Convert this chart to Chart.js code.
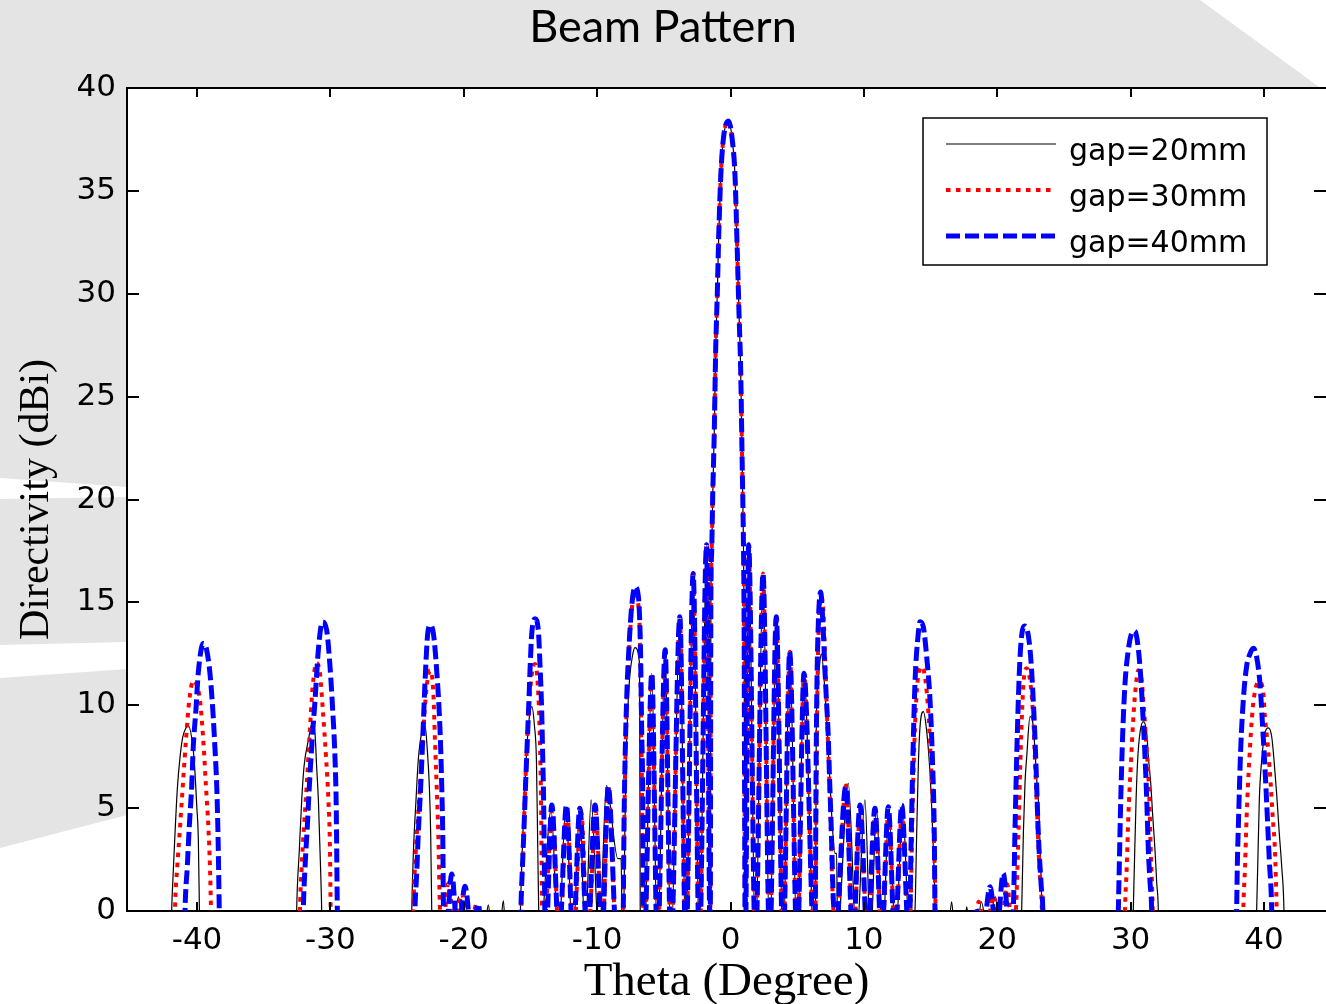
<!DOCTYPE html>
<html lang="en">
<head>
    <meta charset="UTF-8">
    <title>Beam Pattern</title>
    <script src="https://cdn.jsdelivr.net/npm/chart.js"></script>
    <style>
        html, body {
            margin: 0;
            padding: 0;
            background: #ffffff;
            overflow: hidden;
        }
    </style>
</head>
<body>
    <canvas id="beamChart" width="1326" height="1004"></canvas>

    <script>
        // Tick labels
        const xTicks = [-40, -30, -20, -10, 0, 10, 20, 30, 40];
        const yTicks = [0, 5, 10, 15, 20, 25, 30, 35, 40];

        const seriesLabels = ['gap=20mm', 'gap=30mm', 'gap=40mm'];

        // [theta (deg), directivity (dBi)]; values below 0 are clipped by the axis
        // main lobe and close side lobes, where the three curves lie on top of each other
        const centerPoints = [
            [-6.48, -2], [-5.9, 11.55], [-5.48, -2], [-4.9, 12.7], [-4.47, -2], [-3.8, 14.3], [-3.35, -2],
            [-2.8, 16.4], [-2.33, -2], [-1.8, 17.8], [-1.52, -2],
            [-1.47, 15.1], [-1.41, 17.5], [-1.34, 20.0], [-1.22, 23.2], [-1.11, 27.3], [-0.99, 30.0], [-0.88, 32.9],
            [-0.73, 35.7], [-0.54, 37.5], [-0.16, 38.4], [0.13, 37.5], [0.34, 35.7], [0.51, 32.0], [0.64, 29.0],
            [0.76, 26.4], [0.88, 21.6], [0.96, 18.4], [1.01, 15.1], [1.11, -2],
            [1.36, 17.8], [1.87, -2], [2.44, 16.4], [2.94, -2], [3.43, 14.3], [3.94, -2], [4.44, 12.6], [5.0, -2],
            [5.51, 11.55], [6.3, -2]
        ];

        const gap20Points = [
            [-45.3, -4],
            [-41.97, -3], [-41.9, 0], [-41.82, 1.35], [-41.72, 2.8], [-41.48, 5.9], [-41.27, 7.5], [-41.07, 8.45],
            [-40.83, 8.9], [-40.65, 9.0], [-40.28, 7.8], [-40.15, 6.7], [-40.02, 5.1], [-39.9, 3.45], [-39.82, 0], [-39.75, -3],
            [-32.6, -3], [-32.53, 0], [-32.33, 2.95], [-32.15, 5.4], [-31.98, 7.0], [-31.65, 8.3], [-31.33, 9.2],
            [-31.15, 8.6], [-31.03, 7.0], [-30.9, 5.4], [-30.78, 2.95], [-30.65, 0], [-30.58, -3],
            [-23.97, -3], [-23.9, 0], [-23.78, 2.8], [-23.58, 5.4], [-23.41, 7.35], [-23.16, 8.65], [-22.9, 9.0],
            [-22.73, 7.8], [-22.58, 6.05], [-22.48, 3.75], [-22.4, 0], [-22.32, -2],
            [-20.75, -1], [-20.4, 0.7], [-20.05, -1], [-18.45, -1], [-18.16, 0.3], [-17.9, -1], [-17.3, -1], [-17.03, 0.5], [-16.8, -2],
            [-15.82, -3], [-15.75, 0], [-15.55, 4.0], [-15.35, 7.0], [-15.15, 9.0], [-14.9, 9.93], [-14.7, 9.0],
            [-14.55, 7.3], [-14.45, 3.0], [-14.38, 0], [-14.3, -1.5],
            [-13.45, 4.9], [-12.9, -1.5], [-12.35, 5.0], [-11.82, -1.5], [-11.3, 5.0], [-10.9, -1.5], [-10.45, 5.4],
            [-9.85, -1.5], [-9.3, 6.1], [-8.45, 2.55], [-8.2, 2.55], [-8.12, -1],
            [-8.0, 0], [-7.92, 4.0], [-7.8, 8.0], [-7.6, 11.0], [-7.35, 12.4], [-7.16, 12.8], [-6.82, 12.0], [-6.77, 0], [-6.7, -2],
            [6.38, 0], [6.43, 8.8], [6.6, 11.5], [6.81, 12.5], [7.1, 10.5], [7.4, 7.0], [7.65, 4.0], [7.83, 2.8], [7.96, 2.8], [8.02, -1],
            [8.83, 6.2], [9.45, -1.5], [10.08, 5.4], [10.5, -1.5], [10.95, 5.0], [11.4, -1.5], [11.88, 5.0], [12.38, -1.5],
            [12.9, 5.0], [13.45, -1.5],
            [13.83, 0], [13.96, 3.75], [14.08, 7.0], [14.21, 8.95], [14.46, 9.69], [14.7, 8.8], [14.95, 6.8], [15.15, 4.0], [15.35, 0], [15.42, -3],
            [16.35, -1], [16.58, 0.45], [16.8, -1], [17.5, -1], [17.71, 0.2], [17.95, -1], [18.5, -1], [18.8, 0.45], [19.3, -1],
            [19.85, 0.7], [20.3, -1.2],
            [21.75, -3], [21.83, 0], [21.96, 3.8], [22.08, 6.2], [22.21, 7.5], [22.46, 9.45], [22.7, 9.0], [22.83, 7.8],
            [23.0, 6.0], [23.1, 5.2], [23.22, 2.9], [23.35, 0], [23.42, -3],
            [30.12, -3], [30.2, 0], [30.28, 2.15], [30.41, 5.4], [30.53, 7.35], [30.7, 8.65], [30.95, 9.2], [31.21, 8.65],
            [31.33, 7.5], [31.51, 6.2], [31.66, 4.6], [31.83, 2.95], [31.96, 1.35], [32.08, 0], [32.15, -3],
            [39.38, -3], [39.45, 0], [39.53, 2.15], [39.65, 5.4], [39.83, 7.35], [40.07, 8.65], [40.32, 8.9], [40.58, 8.47],
            [40.75, 7.35], [40.95, 5.7], [41.15, 3.75], [41.33, 2.15], [41.5, 0], [41.57, -3],
            [44.7, -4]
        ];

        const gap30Points = [
            [-45.3, -4],
            [-41.72, -3], [-41.65, 0], [-41.48, 2.15], [-41.27, 4.1], [-41.07, 6.05], [-40.83, 8.3], [-40.58, 10.25],
            [-40.28, 11.2], [-39.98, 10.9], [-39.78, 10.25], [-39.53, 8.3], [-39.33, 6.05], [-39.15, 4.1], [-39.03, 2.15],
            [-38.95, 0], [-38.88, -3],
            [-32.35, -3], [-32.28, 0], [-32.15, 2.15], [-31.98, 4.1], [-31.78, 6.05], [-31.58, 8.3], [-31.33, 10.9],
            [-31.03, 12.05], [-30.78, 11.55], [-30.57, 9.8], [-30.33, 7.5], [-30.15, 5.4], [-30.03, 2.95], [-29.98, 0], [-29.9, -3],
            [-23.85, -3], [-23.78, 0], [-23.66, 2.15], [-23.48, 4.1], [-23.28, 6.05], [-23.08, 8.3], [-22.78, 10.9],
            [-22.53, 11.7], [-22.28, 10.6], [-22.16, 8.3], [-22.03, 6.05], [-21.91, 3.75], [-21.78, 0], [-21.6, -1.2],
            [-21.16, 1.35], [-20.65, -1.2], [-20.15, 0.85], [-19.6, -1.2], [-19.03, 0.35], [-18.6, -3],
            [-15.78, -3], [-15.7, 0], [-15.5, 4.0], [-15.3, 7.5], [-15.1, 10.0], [-14.9, 11.5], [-14.65, 12.0],
            [-14.45, 11.0], [-14.3, 8.5], [-14.2, 5.0], [-14.13, 0], [-14.05, -1.5],
            [-13.35, 4.9], [-12.85, -1.5], [-12.25, 4.9], [-11.78, -1.5], [-11.2, 4.85], [-10.7, -1.5], [-10.1, 4.8],
            [-9.62, -1.5], [-9.18, 6.1], [-8.55, -1.5],
            [-8.1, -2], [-8.03, 0], [-7.97, 4.0], [-7.88, 7.5], [-7.75, 10.6], [-7.58, 13.0], [-7.38, 14.8], [-7.16, 15.5],
            [-6.93, 15.0], [-6.8, 13.5], [-6.72, 10.0], [-6.62, 5.0], [-6.55, 0],
            [6.38, 0], [6.43, 5.0], [6.5, 10.0], [6.6, 13.5], [6.8, 15.3], [6.97, 14.5], [7.1, 12.2], [7.22, 9.8],
            [7.35, 7.5], [7.5, 4.5], [7.62, 1.5], [7.72, 0], [7.85, -1.5],
            [8.66, 6.1], [9.2, -1.5], [9.73, 4.9], [10.28, -1.5], [10.85, 4.8], [11.35, -1.5], [11.85, 4.9], [12.35, -1.5],
            [12.86, 4.9], [13.4, -1.5],
            [13.5, 0], [13.62, 4.0], [13.78, 8.0], [13.98, 10.8], [14.33, 11.87], [14.6, 11.3], [14.85, 9.5], [15.08, 6.5],
            [15.25, 3.5], [15.38, 0], [15.45, -3],
            [18.2, -3], [18.6, 0.45], [19.15, -1.2], [19.7, 0.75], [20.22, -1.2], [20.75, 1.3], [21.12, -1.2],
            [21.4, 0], [21.6, 4.0], [21.76, 7.8], [21.96, 11.0], [22.21, 11.8], [22.46, 11.2], [22.7, 9.4], [22.85, 7.0],
            [23.0, 4.6], [23.16, 2.1], [23.35, 0], [23.42, -3],
            [29.5, -3], [29.58, 0], [29.71, 2.15], [29.83, 4.6], [30.01, 7.0], [30.21, 9.45], [30.41, 11.05], [30.58, 11.7],
            [30.83, 11.2], [31.0, 9.8], [31.21, 7.8], [31.41, 5.4], [31.51, 2.95], [31.66, 0], [31.73, -3],
            [38.38, -3], [38.45, 0], [38.58, 2.15], [38.7, 4.6], [38.9, 7.35], [39.15, 9.8], [39.4, 10.9], [39.65, 11.15],
            [39.95, 10.6], [40.07, 9.45], [40.32, 7.8], [40.5, 6.2], [40.65, 4.6], [40.82, 2.95], [40.95, 0], [41.02, -3],
            [44.7, -4]
        ];

        const gap40Points = [
            [-45.3, -4],
            [-40.98, -3], [-40.9, 0], [-40.73, 2.15], [-40.58, 4.1], [-40.4, 6.05], [-40.28, 8.0], [-40.08, 9.8],
            [-39.91, 11.55], [-39.53, 13.0], [-39.28, 12.7], [-39.03, 11.55], [-38.82, 9.8], [-38.65, 7.85], [-38.52, 6.05],
            [-38.42, 3.5], [-38.33, 0], [-38.25, -3],
            [-32.1, -3], [-32.03, 0], [-31.9, 2.15], [-31.73, 4.1], [-31.58, 6.05], [-31.4, 8.0], [-31.15, 10.25],
            [-30.9, 12.7], [-30.6, 14.05], [-30.28, 13.65], [-30.03, 11.9], [-29.83, 9.8], [-29.65, 7.35], [-29.56, 5.0],
            [-29.52, 2.45], [-29.48, 0], [-29.4, -3],
            [-23.74, -3], [-23.66, 0], [-23.53, 1.8], [-23.41, 3.75], [-23.23, 6.05], [-23.08, 8.3], [-22.91, 11.05],
            [-22.7, 13.5], [-22.5, 13.9], [-22.28, 13.5], [-22.03, 11.7], [-21.78, 8.8], [-21.65, 6.05], [-21.57, 3.45],
            [-21.52, 0], [-21.35, -1.2], [-20.9, 1.8], [-20.45, -1.2], [-19.9, 1.2], [-19.4, -1.2], [-18.9, 0.35], [-18.55, -3],
            [-15.8, -3], [-15.72, 0], [-15.6, 2.15], [-15.48, 4.1], [-15.37, 6.05], [-15.25, 8.0], [-15.14, 9.8],
            [-15.02, 11.9], [-14.9, 13.5], [-14.66, 14.2], [-14.41, 13.65], [-14.28, 11.9], [-14.16, 9.8], [-14.08, 7.5],
            [-14.03, 6.05], [-13.98, 3.8], [-13.92, 0], [-13.85, -1.5],
            [-13.4, 5.15], [-12.85, -1.5], [-12.3, 5.15], [-11.8, -1.5], [-11.3, 5.0], [-10.72, -1.5], [-10.15, 5.15],
            [-9.65, -1.5], [-9.16, 6.05], [-8.55, -1.5],
            [-8.1, -2], [-8.04, 0], [-7.99, 3.9], [-7.91, 7.2], [-7.78, 10.4], [-7.61, 12.85], [-7.41, 14.8], [-7.16, 15.75],
            [-6.91, 15.3], [-6.79, 13.8], [-6.73, 12.05], [-6.66, 8.8], [-6.58, 5.55], [-6.54, 0],
            [6.36, 0], [6.4, 5.0], [6.46, 10.0], [6.56, 13.5], [6.76, 15.5], [6.93, 14.0], [7.06, 12.0], [7.18, 10.4],
            [7.31, 8.8], [7.43, 6.4], [7.56, 3.9], [7.7, 0.7], [7.76, 0], [7.85, -1.5],
            [8.64, 6.05], [9.18, -1.5], [9.71, 5.15], [10.27, -1.5], [10.83, 5.0], [11.33, -1.5], [11.83, 5.07], [12.33, -1.5],
            [12.84, 5.15], [13.38, -1.5],
            [13.46, 0], [13.51, 2.15], [13.66, 7.0], [13.83, 11.05], [14.08, 13.5], [14.21, 14.06], [14.46, 13.8],
            [14.71, 12.35], [14.96, 10.25], [15.16, 7.0], [15.28, 3.75], [15.33, 0], [15.4, -3],
            [18.0, -3], [18.33, 0.15], [18.9, -1.2], [19.46, 1.18], [19.95, -1.2], [20.45, 1.83], [20.95, -1.2],
            [21.2, 0], [21.35, 4.5], [21.5, 8.5], [21.65, 11.5], [21.8, 13.2], [22.08, 13.85], [22.46, 12.7], [22.7, 10.25],
            [22.9, 7.2], [23.08, 3.75], [23.3, 1.2], [23.42, 0], [23.5, -3],
            [29.0, -3], [29.08, 0], [29.15, 2.15], [29.26, 5.4], [29.41, 8.65], [29.58, 11.05], [29.83, 12.7], [30.08, 13.5],
            [30.28, 13.6], [30.45, 13.35], [30.7, 11.9], [30.9, 9.8], [31.08, 7.5], [31.21, 5.4], [31.33, 2.95],
            [31.46, 1.35], [31.58, 0], [31.65, -3],
            [37.88, -3], [37.95, 0], [38.0, 2.15], [38.1, 4.6], [38.25, 7.8], [38.45, 10.25], [38.7, 11.9], [38.95, 12.5],
            [39.2, 12.77], [39.45, 12.35], [39.7, 11.05], [39.9, 8.95], [40.07, 7.0], [40.25, 4.6], [40.4, 2.45],
            [40.58, 0], [40.65, -3],
            [44.7, -4]
        ];

        // outer lobes + the shared centre, sorted by angle
        function buildSeries(outer) {
            return outer.concat(centerPoints)
                .sort((a, b) => a[0] - b[0])
                .map(p => ({ x: p[0], y: p[1] }));
        }

        // grey slide background with white swooshes, white plot box
        const backdrop = {
            id: 'backdrop',
            beforeDraw(chart) {
                const { ctx, chartArea: a } = chart;
                const poly = pts => {
                    ctx.beginPath();
                    ctx.moveTo(pts[0][0], pts[0][1]);
                    pts.slice(1).forEach(p => ctx.lineTo(p[0], p[1]));
                    ctx.closePath();
                    ctx.fill();
                };
                ctx.save();
                ctx.fillStyle = '#e4e4e4';
                ctx.fillRect(0, 0, chart.width, chart.height);
                ctx.fillStyle = '#ffffff';
                poly([[1200, 0], [1326, 0], [1326, 92]]);
                poly([[0, 478], [127, 487], [127, 497], [0, 499]]);
                poly([[0, 645], [127, 642], [127, 669], [0, 678]]);
                poly([[0, 848], [127, 815], [1326, 815], [1326, 1004], [0, 1004]]);
                ctx.fillRect(a.left, a.top, a.right - a.left, a.bottom - a.top);
                ctx.restore();
            }
        };

        // inward ticks on all four sides, top border, legend box
        const frame = {
            id: 'frame',
            afterDraw(chart) {
                const { ctx, chartArea: a, scales: { x, y } } = chart;
                ctx.save();
                ctx.strokeStyle = '#000';
                ctx.lineWidth = 2;
                ctx.beginPath();
                ctx.moveTo(a.left, a.top);
                ctx.lineTo(a.right, a.top);
                xTicks.forEach(v => {
                    const px = Math.round(x.getPixelForValue(v));
                    ctx.moveTo(px, a.top);
                    ctx.lineTo(px, a.top + 9);
                    ctx.moveTo(px, a.bottom);
                    ctx.lineTo(px, a.bottom - 9);
                });
                yTicks.forEach(v => {
                    const py = Math.round(y.getPixelForValue(v));
                    ctx.moveTo(a.left, py);
                    ctx.lineTo(a.left + 12, py);
                    ctx.moveTo(a.right - 12, py);
                    ctx.lineTo(a.right, py);
                });
                ctx.stroke();

                // legend
                const box = { left: 923, top: 118, width: 344, height: 147 };
                ctx.fillStyle = '#ffffff';
                ctx.fillRect(box.left, box.top, box.width, box.height);
                ctx.lineWidth = 1.5;
                ctx.strokeRect(box.left, box.top, box.width, box.height);
                ctx.font = '30px "DejaVu Sans"';
                ctx.textBaseline = 'alphabetic';
                chart.data.datasets.forEach((ds, i) => {
                    const ly = 144 + i * 46;
                    ctx.save();
                    ctx.strokeStyle = ds.borderColor;
                    ctx.lineWidth = ds.borderWidth;
                    ctx.setLineDash(ds.borderDash || []);
                    ctx.beginPath();
                    ctx.moveTo(946, ly);
                    ctx.lineTo(1056, ly);
                    ctx.stroke();
                    ctx.restore();
                    ctx.fillStyle = '#000';
                    ctx.fillText(ds.label, 1069, ly + 16);
                });
                ctx.restore();
            }
        };

        const ctx = document.getElementById('beamChart').getContext('2d');
        const beamChart = new Chart(ctx, {
            type: 'line',
            data: {
                datasets: [
                    {
                        label: seriesLabels[0],
                        data: buildSeries(gap20Points),
                        borderColor: '#000000',
                        borderWidth: 1.2,
                        order: 3
                    },
                    {
                        label: seriesLabels[1],
                        data: buildSeries(gap30Points),
                        borderColor: '#ff0000',
                        borderWidth: 4,
                        borderDash: [4.5, 5.5],
                        order: 2
                    },
                    {
                        label: seriesLabels[2],
                        data: buildSeries(gap40Points),
                        borderColor: '#0000ff',
                        borderWidth: 5,
                        borderDash: [14, 5],
                        order: 1
                    }
                ]
            },
            options: {
                responsive: false,
                animation: false,
                devicePixelRatio: 1,
                layout: { padding: 0 },
                datasets: {
                    line: {
                        pointRadius: 0,
                        fill: false,
                        cubicInterpolationMode: 'monotone',
                        capBezierPoints: false,
                        clip: 0
                    }
                },
                plugins: {
                    legend: { display: false },
                    tooltip: { enabled: false },
                    title: {
                        display: true,
                        text: 'Beam Pattern',
                        color: '#000',
                        font: { family: 'Lato', size: 45, weight: 'normal' },
                        padding: { top: 0, bottom: 34 }
                    }
                },
                scales: {
                    x: {
                        type: 'linear',
                        min: -45.25,
                        max: 44.65,
                        afterBuildTicks: s => { s.ticks = xTicks.map(v => ({ value: v })); },
                        afterFit: s => { s.height = 93; },
                        grid: { display: false, drawTicks: false },
                        border: { display: true, color: '#000', width: 2 },
                        ticks: {
                            color: '#000',
                            font: { family: 'DejaVu Sans', size: 31 },
                            padding: 11,
                            maxRotation: 0,
                            autoSkip: false
                        },
                        title: {
                            display: true,
                            text: 'Theta (Degree)',
                            color: '#000',
                            font: { family: 'Liberation Serif', size: 47, lineHeight: 1 },
                            padding: { top: 0, bottom: -2 }
                        }
                    },
                    y: {
                        min: 0,
                        max: 40,
                        afterBuildTicks: s => { s.ticks = yTicks.map(v => ({ value: v })); },
                        afterFit: s => { s.width = 127; },
                        grid: { display: false, drawTicks: false },
                        border: { display: true, color: '#000', width: 2 },
                        ticks: {
                            color: '#000',
                            font: { family: 'DejaVu Sans', size: 31 },
                            padding: 11
                        },
                        title: {
                            display: true,
                            text: 'Directivity (dBi)',
                            color: '#000',
                            font: { family: 'Liberation Serif', size: 42, lineHeight: 1 },
                            padding: { top: 16, bottom: 0 }
                        }
                    }
                }
            },
            plugins: [backdrop, frame]
        });
    </script>
</body>
</html>
